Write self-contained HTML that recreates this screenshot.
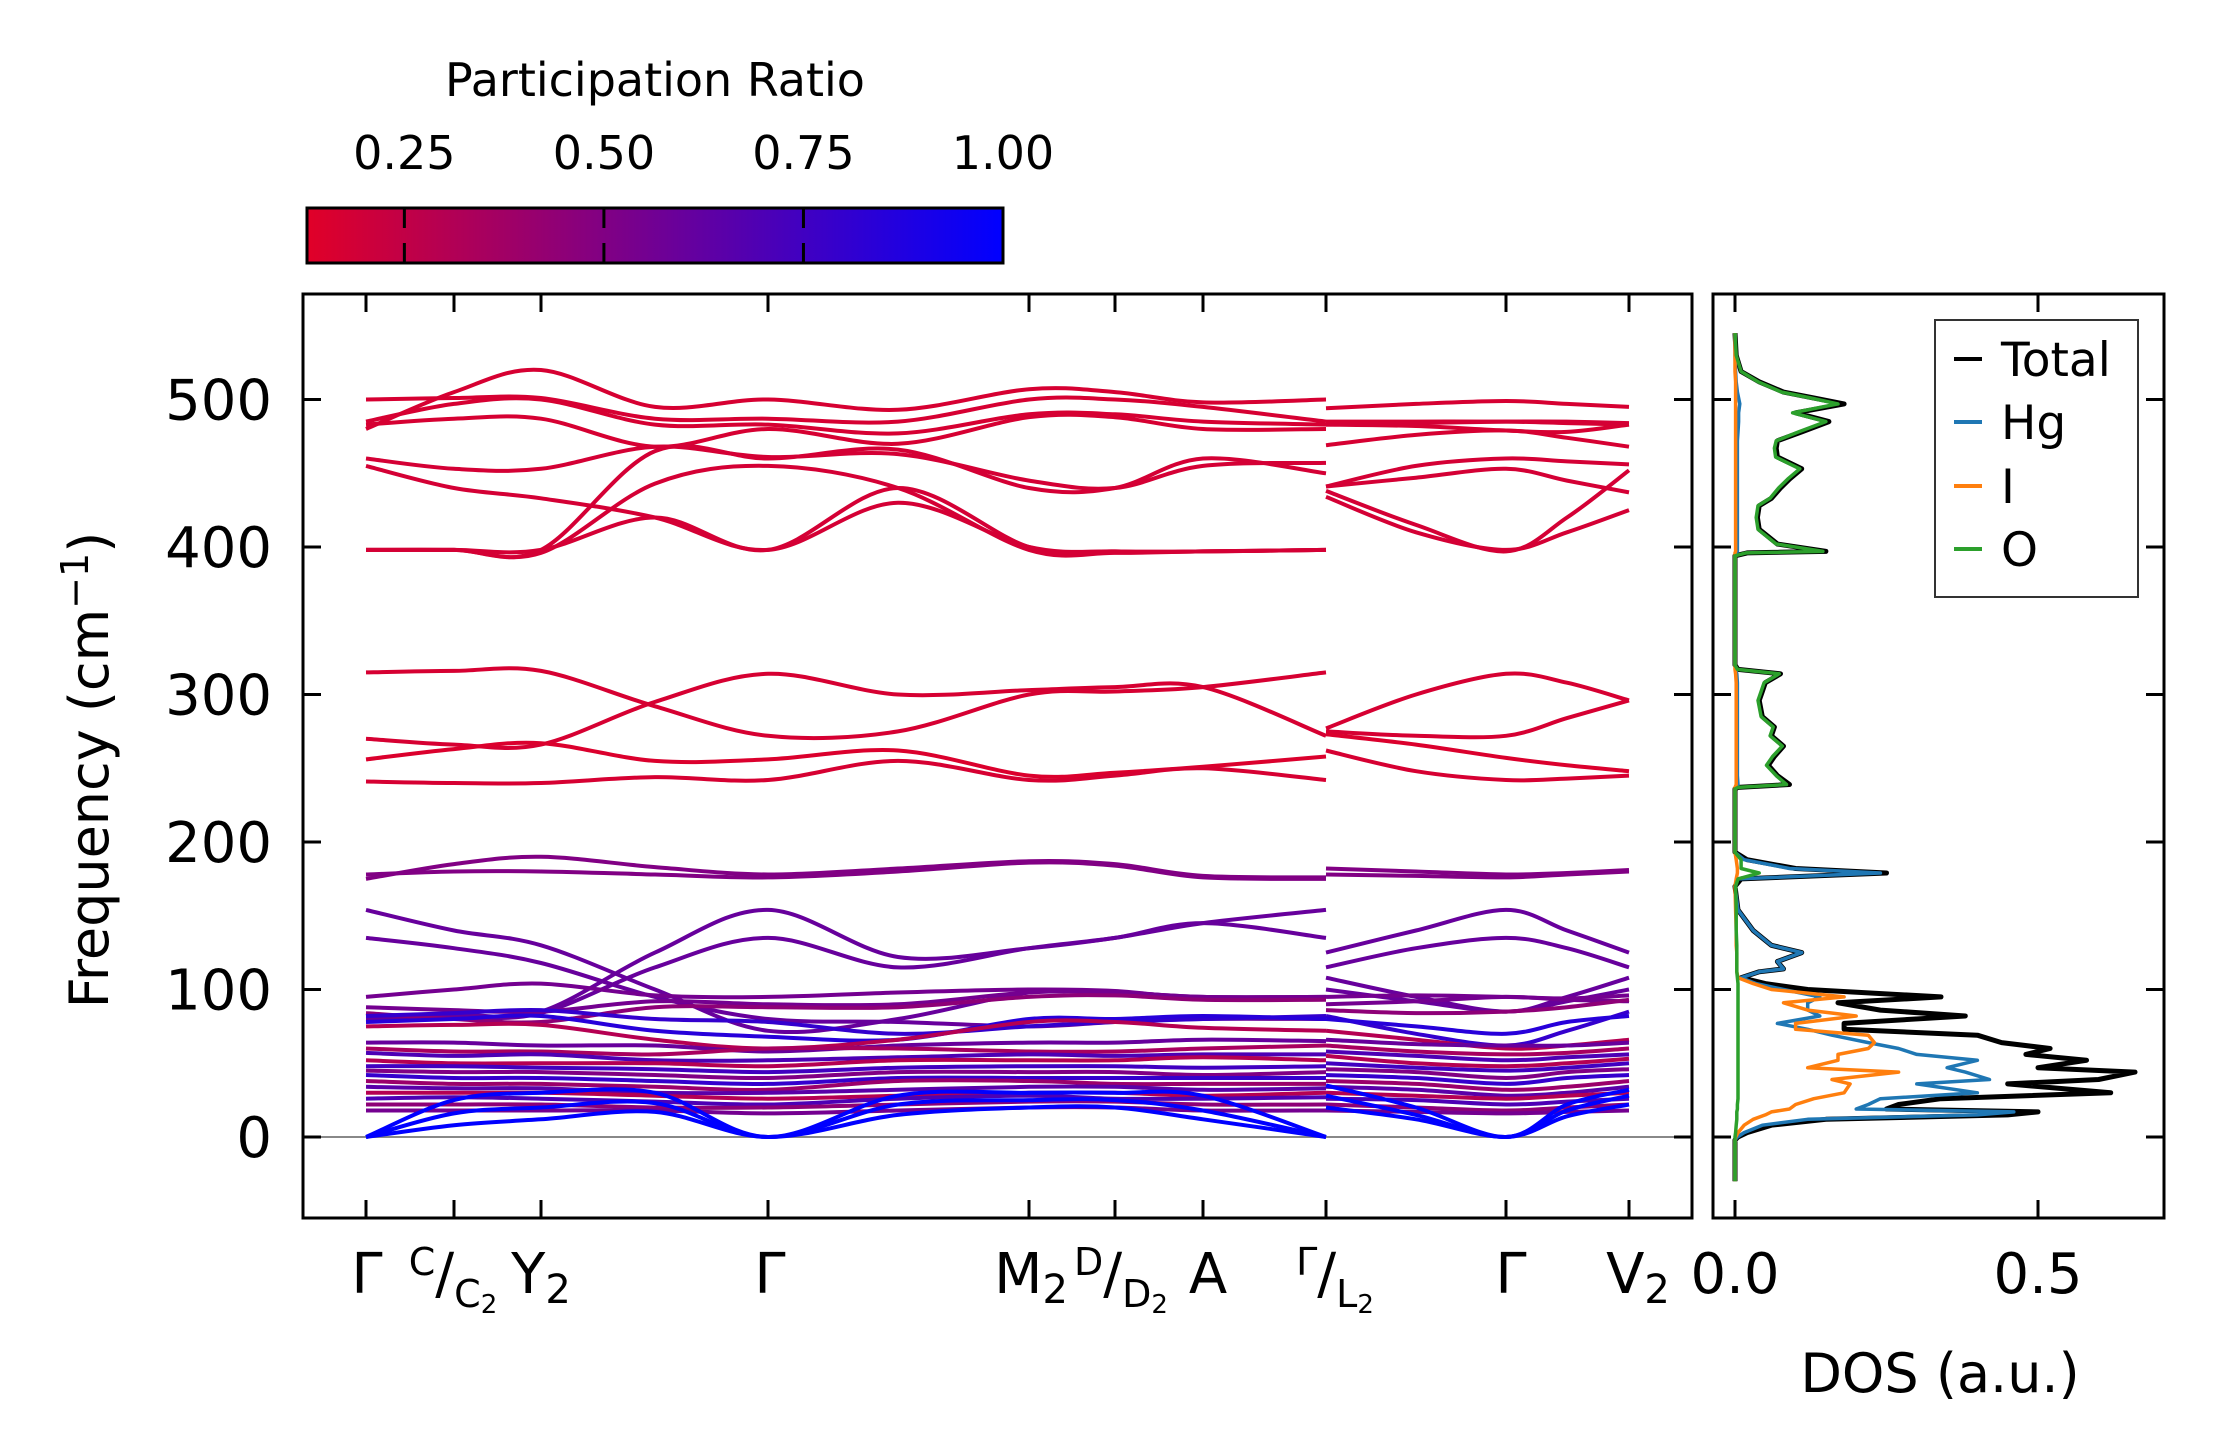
<!DOCTYPE html>
<html><head><meta charset="utf-8"><style>
html,body{margin:0;padding:0;background:#fff}
svg{display:block;font-family:"DejaVu Sans","Liberation Sans",sans-serif}
</style></head><body>
<svg id="fig" width="2222" height="1455" viewBox="0 0 2222 1455" xmlns="http://www.w3.org/2000/svg">
<defs>
<linearGradient id="cmap" x1="0" x2="1" y1="0" y2="0">
<stop offset="0" stop-color="rgb(225,0,40)"/><stop offset="1" stop-color="rgb(0,0,255)"/>
</linearGradient>
<clipPath id="mainclip"><rect x="303" y="294" width="1389" height="924"/></clipPath>
<clipPath id="dosclip"><rect x="1713" y="294" width="451" height="924"/></clipPath>
</defs>
<g>
<text x="655" y="96" font-size="46" text-anchor="middle">Participation Ratio</text>
<rect x="307" y="208" width="696" height="55" fill="url(#cmap)" stroke="#000" stroke-width="3"/>
<g id="cbticks"></g>
</g>
<g id="main"></g>
<g id="dos"></g>
<text transform="translate(108,770) rotate(-90)" font-size="54" text-anchor="middle">Frequency (cm<tspan dy="-20" font-size="38">−1</tspan><tspan dy="20">)</tspan></text>
<text x="1940" y="1392" font-size="54" text-anchor="middle">DOS (a.u.)</text>
</svg>
<script>
const kSeg1 = [0, 88, 175, 289, 402, 532, 663, 749, 837, 960];
const kSeg2 = [960, 1050, 1140, 1201, 1263];
const kTickPos = [0, 88, 175, 402, 663, 749, 837, 960, 1140, 1263];
const yTicks = [0, 100, 200, 300, 400, 500];
const bandsSeg1 = [
[480,505,520,495,500,493,507,505,498,500],
[500,501,501,487,487,485,500,500,495,485],
[485,497,500,483,483,477,490,490,485,483],
[483,487,487,468,480,470,488,488,480,480],
[460,453,453,468,461,463,445,440,455,457],
[455,440,433,420,398,430,400,397,397,398],
[398,398,398,465,460,466,440,440,460,450],
[398,398,396,443,455,440,398,396,397,398],
[398,398,398,420,398,440,400,397,397,398],
[315,316,316,292,272,275,300,302,305,315],
[270,266,266,295,314,300,303,305,305,272],
[256,263,267,255,256,262,245,247,251,258],
[241,240,240,244,242,255,242,245,250,242],
[175,185,190,183,178,182,187,185,177,176],
[178,180,180,178,176,180,186,184,176,175],
[154,140,130,100,72,80,98,98,95,95],
[135,128,118,95,80,78,75,78,80,80],
[82,83,85,125,154,122,128,135,145,154],
[80,81,84,115,135,115,128,135,145,135],
[95,100,104,96,95,98,100,99,94,94],
[88,86,85,92,90,90,98,98,95,95],
[84,80,78,88,88,88,95,96,93,93],
[82,84,86,80,78,70,75,78,80,82],
[78,80,82,72,68,66,80,80,82,80],
[75,76,76,66,60,66,78,78,74,72],
[64,64,62,62,58,62,64,64,66,65],
[60,58,58,56,60,60,58,58,60,62],
[57,55,56,52,52,54,56,55,56,56],
[52,50,50,50,48,52,52,52,54,52],
[48,48,47,46,44,47,48,48,47,48],
[45,44,44,42,40,44,44,44,42,44],
[42,40,40,38,36,40,40,40,40,40],
[38,36,36,34,32,38,38,36,36,36],
[34,33,33,30,30,32,34,34,32,33],
[30,30,30,28,26,28,30,30,28,30],
[26,27,26,24,22,26,28,26,26,27],
[22,22,22,20,20,22,24,24,22,22],
[18,18,18,18,16,18,20,20,18,18],
[0,8,12,17,0,15,20,20,12,0],
[0,16,20,23,0,22,25,25,18,0],
[0,25,30,30,0,28,30,30,28,0]
];
const bandsSeg2 = [
[494,497,499,497,495],
[485,485,485,484,483],
[483,482,479,478,483],
[469,476,479,474,468],
[441,455,460,458,456],
[441,447,453,445,437],
[438,415,397,420,452],
[434,410,398,410,425],
[483,484,485,485,484],
[277,300,314,308,296],
[275,272,272,284,296],
[273,266,257,252,248],
[262,248,242,243,245],
[182,180,178,179,181],
[178,177,176,178,180],
[125,140,154,140,125],
[115,128,135,128,115],
[108,95,85,95,108],
[100,92,85,92,100],
[95,96,95,94,96],
[90,92,95,93,92],
[86,84,85,88,93],
[82,70,62,72,85],
[80,75,70,78,82],
[72,66,60,62,66],
[66,63,62,62,64],
[62,58,56,57,60],
[58,55,52,54,56],
[55,50,48,50,53],
[50,47,45,47,50],
[46,44,40,44,46],
[42,40,36,40,42],
[38,36,32,34,38],
[34,32,28,30,34],
[30,28,26,28,30],
[26,25,22,24,26],
[22,20,18,20,22],
[18,17,16,17,18],
[20,12,0,14,22],
[28,15,0,18,28],
[35,20,0,22,32]
];
const bandPR = [0.17,0.17,0.17,0.17,0.18,0.18,0.18,0.18,0.18,0.17,0.17,0.15,0.17,0.5,0.5,0.6,0.6,0.6,0.6,0.55,
0.55,0.45,0.8,0.85,0.3,0.6,0.35,0.7,0.3,0.75,0.5,0.8,0.4,0.65,0.3,0.7,0.45,0.55,1.0,1.0,1.0];
const cbTicks = [0.25, 0.5, 0.75, 1.0];
const cbTickLabels = ["0.25","0.50","0.75","1.00"];

const dosFreq = [-30,-2,0,3,8,12,15,17,19,22,26,30,36,39,44,47,52,56,60,64,69,73,77,82,86,91,95,100,104,108,112,114,119,125,130,140,154,170,175,179,182,188,193,200,236,237,239,245,252,258,265,272,278,285,296,302,308,314,317,320,394,396,397,402,412,420,428,433,440,446,453,461,467,472,478,485,491,497,501,505,512,519,530,545];
const dosTotal = [0,0,0.005,0.02,0.06,0.15,0.45,0.5,0.25,0.27,0.34,0.62,0.45,0.6,0.66,0.5,0.58,0.48,0.52,0.44,0.4,0.18,0.18,0.38,0.24,0.17,0.34,0.12,0.05,0.01,0.04,0.08,0.07,0.11,0.06,0.03,0.005,0,0.01,0.25,0.1,0.02,0,0,0,0.005,0.09,0.07,0.055,0.065,0.08,0.06,0.065,0.045,0.04,0.045,0.05,0.075,0.005,0,0,0.02,0.15,0.07,0.04,0.037,0.04,0.06,0.075,0.09,0.11,0.07,0.068,0.07,0.11,0.155,0.1,0.18,0.13,0.08,0.04,0.01,0.002,0];
const dosHg = [0,0,0.004,0.015,0.045,0.12,0.4,0.46,0.2,0.22,0.24,0.4,0.3,0.42,0.38,0.35,0.4,0.3,0.27,0.22,0.16,0.12,0.07,0.14,0.12,0.12,0.14,0.08,0.035,0.01,0.04,0.08,0.07,0.11,0.06,0.03,0.005,0,0.005,0.24,0.09,0.015,0,0,0,0.001,0.005,0.004,0.004,0.004,0.004,0.004,0.004,0.004,0.004,0.004,0.004,0.003,0.001,0,0,0.002,0.004,0.004,0.004,0.004,0.004,0.004,0.004,0.004,0.004,0.004,0.004,0.004,0.005,0.006,0.006,0.008,0.006,0.004,0.002,0.001,0,0];
const dosI = [0,0,0.001,0.005,0.015,0.03,0.05,0.06,0.09,0.1,0.13,0.18,0.19,0.16,0.27,0.12,0.17,0.17,0.22,0.23,0.22,0.1,0.1,0.2,0.12,0.08,0.18,0.06,0.03,0.005,0.003,0.003,0.003,0.003,0.002,0.002,0.001,0,0.002,0.004,0.004,0.002,0,0,0,0,0.002,0.002,0.002,0.002,0.002,0.002,0.002,0.002,0.002,0.002,0.002,0.001,0,0,0,0,0.001,0.001,0.001,0.001,0.001,0.001,0.001,0.001,0.001,0.001,0.001,0.001,0.001,0.001,0.001,0.001,0.001,0.001,0.001,0,0,0];
const dosO = [0,0,0,0.001,0.002,0.003,0.003,0.003,0.004,0.004,0.005,0.005,0.005,0.005,0.005,0.005,0.005,0.005,0.005,0.005,0.005,0.005,0.005,0.005,0.005,0.005,0.005,0.005,0.005,0.004,0.003,0.003,0.003,0.003,0.003,0.002,0.002,0.001,0.005,0.04,0.01,0.01,0,0,0,0.005,0.085,0.068,0.052,0.062,0.078,0.058,0.063,0.043,0.038,0.043,0.048,0.073,0.004,0,0,0.018,0.145,0.068,0.038,0.035,0.038,0.058,0.072,0.087,0.107,0.067,0.065,0.068,0.105,0.15,0.095,0.17,0.125,0.077,0.038,0.01,0.002,0];
const dosXTicks = [0, 0.5];
const legendNames = ["Total","Hg","I","O"];

const NS = "http://www.w3.org/2000/svg";
const X0 = 303, X1 = 1692, Y0 = 294, Y1 = 1218;
const kMin = -63, kMax = 1326;
function kx(k){ return X0 + (k - kMin) / (kMax - kMin) * (X1 - X0); }
function fy(v){ return 1137 - v * 1.475; }
const DX0 = 1713, DX1 = 2164;
function dx(d){ return 1735 + d * 606; }
function prColor(p){ const t = Math.max(0, Math.min(1, (p - 0.128) / (1 - 0.128)));
  return "rgb(" + Math.round(225*(1-t)) + ",0," + Math.round(40 + 215*t) + ")"; }
function mk(tag, attrs, parent){ const e = document.createElementNS(NS, tag);
  for (const a in attrs) e.setAttribute(a, attrs[a]); parent.appendChild(e); return e; }
function smoothPath(pts){
  let d = "M" + pts[0][0].toFixed(1) + "," + pts[0][1].toFixed(1);
  for (let i = 0; i < pts.length - 1; i++){
    const p0 = pts[Math.max(0, i-1)], p1 = pts[i], p2 = pts[i+1], p3 = pts[Math.min(pts.length-1, i+2)];
    const c1 = [p1[0] + (p2[0]-p0[0])/6, p1[1] + (p2[1]-p0[1])/6];
    const c2 = [p2[0] - (p3[0]-p1[0])/6, p2[1] - (p3[1]-p1[1])/6];
    d += " C" + c1[0].toFixed(1) + "," + c1[1].toFixed(1) + " " + c2[0].toFixed(1) + "," + c2[1].toFixed(1) + " " + p2[0].toFixed(1) + "," + p2[1].toFixed(1);
  }
  return d;
}

const cb = document.getElementById("cbticks");
cbTicks.forEach((t, i) => {
  const x = 307 + (t - 0.128) / (1 - 0.128) * 696;
  if (t < 1) {
    const l1 = mk("line", {x1:x, x2:x, y1:208, y2:228, stroke:"#000", "stroke-width":3}, cb);
    
    
    const l2 = mk("line", {x1:x, x2:x, y1:243, y2:263, stroke:"#000", "stroke-width":3}, cb);
    
    
  }
  const tx = mk("text", {x:x, y:169, "font-size":46, "text-anchor":"middle"}, cb);
  tx.textContent = cbTickLabels[i];
  
  
});

const main = document.getElementById("main");
const zl = mk("line", {x1:X0, x2:X1, y1:fy(0), y2:fy(0), stroke:"#888", "stroke-width":2}, main);


const bandG = mk("g", {"clip-path":"url(#mainclip)"}, main);


bandsSeg1.forEach((b, i) => {
  const col = prColor(bandPR[i]);
  const p1 = mk("path", {d: smoothPath(b.map((v, j) => [kx(kSeg1[j]), fy(v)])), fill:"none", stroke:col, "stroke-width":4}, bandG);
  
  
  const b2 = bandsSeg2[i];
  const p2 = mk("path", {d: smoothPath(b2.map((v, j) => [kx(kSeg2[j]), fy(v)])), fill:"none", stroke:col, "stroke-width":4}, bandG);
  
  
});
const frame = mk("rect", {x:X0, y:Y0, width:X1-X0, height:Y1-Y0, fill:"none", stroke:"#000", "stroke-width":3}, main);


kTickPos.forEach(k => {
  const x = kx(k);
  const t1 = mk("line", {x1:x, x2:x, y1:Y1, y2:Y1-18, stroke:"#000", "stroke-width":3}, main);
  
  
  const t2 = mk("line", {x1:x, x2:x, y1:Y0, y2:Y0+18, stroke:"#000", "stroke-width":3}, main);
  
  
});
yTicks.forEach(v => {
  const y = fy(v);
  const t1 = mk("line", {x1:X0, x2:X0+18, y1:y, y2:y, stroke:"#000", "stroke-width":3}, main);
  
  
  const t2 = mk("line", {x1:X1, x2:X1-18, y1:y, y2:y, stroke:"#000", "stroke-width":3}, main);
  
  
  const tl = mk("text", {x:272, y:y+20, "font-size":56, "text-anchor":"end"}, main);
  tl.textContent = String(v);
  
  
});

(function(){
  const html = [
    '<text x="367" y="1293" font-size="56" text-anchor="middle">Γ</text>',
    '<text x="453" y="1293" font-size="56" text-anchor="middle"><tspan font-size="38" dy="-18">C</tspan><tspan dy="18">/</tspan><tspan font-size="38" dy="14">C</tspan><tspan font-size="26" dy="6">2</tspan></text>',
    '<text x="541" y="1293" font-size="56" text-anchor="middle">Y<tspan font-size="40" dy="10">2</tspan></text>',
    '<text x="770" y="1293" font-size="56" text-anchor="middle">Γ</text>',
    '<text x="1031" y="1293" font-size="56" text-anchor="middle">M<tspan font-size="40" dy="10">2</tspan></text>',
    '<text x="1121" y="1293" font-size="56" text-anchor="middle"><tspan font-size="38" dy="-18">D</tspan><tspan dy="18">/</tspan><tspan font-size="38" dy="14">D</tspan><tspan font-size="26" dy="6">2</tspan></text>',
    '<text x="1208" y="1293" font-size="56" text-anchor="middle">A</text>',
    '<text x="1335" y="1293" font-size="56" text-anchor="middle"><tspan font-size="38" dy="-18">Γ</tspan><tspan dy="18">/</tspan><tspan font-size="38" dy="14">L</tspan><tspan font-size="26" dy="6">2</tspan></text>',
    '<text x="1511" y="1293" font-size="56" text-anchor="middle">Γ</text>',
    '<text x="1638" y="1293" font-size="56" text-anchor="middle">V<tspan font-size="40" dy="10">2</tspan></text>'
  ];
  const tmp = document.createElementNS(NS, "g");
  tmp.innerHTML = html.join("");
  Array.from(tmp.childNodes).forEach(n => {
    
    
    main.appendChild(n);
  });
})();

(function(){
  const g = document.getElementById("dos");
  const clipG = mk("g", {"clip-path":"url(#dosclip)"}, g);
  
  
  const series = [dosTotal, dosHg, dosI, dosO];
  const colors = ["#000000", "#1f77b4", "#ff7f0e", "#2ca02c"];
  const widths = [5, 3.5, 3.5, 3.5];
  series.forEach((s, i) => {
    const d = s.map((v, j) => (j ? "L" : "M") + dx(v).toFixed(1) + "," + fy(dosFreq[j]).toFixed(1)).join(" ");
    const p = mk("path", {d:d, fill:"none", stroke:colors[i], "stroke-width":widths[i], "stroke-linejoin":"round"}, clipG);
    
    
  });
  const fr = mk("rect", {x:DX0, y:Y0, width:DX1-DX0, height:Y1-Y0, fill:"none", stroke:"#000", "stroke-width":3}, g);
  
  
  yTicks.forEach(v => {
    const y = fy(v);
    const t1 = mk("line", {x1:DX0, x2:DX0+18, y1:y, y2:y, stroke:"#000", "stroke-width":3}, g);
    
    
    const t2 = mk("line", {x1:DX1, x2:DX1-18, y1:y, y2:y, stroke:"#000", "stroke-width":3}, g);
    
    
  });
  dosXTicks.forEach(t => {
    const x = dx(t);
    const t1 = mk("line", {x1:x, x2:x, y1:Y1, y2:Y1-18, stroke:"#000", "stroke-width":3}, g);
    
    
    const t2 = mk("line", {x1:x, x2:x, y1:Y0, y2:Y0+18, stroke:"#000", "stroke-width":3}, g);
    
    
    const tl = mk("text", {x:x, y:1293, "font-size":56, "text-anchor":"middle"}, g);
    tl.textContent = t.toFixed(1);
    
    
  });
  const lg = mk("g", {}, g);
  
  
  const box = mk("rect", {x:1935, y:320, width:203, height:277, fill:"#fff", stroke:"#333", "stroke-width":2}, lg);
  
  
  const ys = [359, 422, 486, 549];
  legendNames.forEach((n, i) => {
    const ln = mk("line", {x1:1954, x2:1982, y1:ys[i], y2:ys[i], stroke:colors[i], "stroke-width":4}, lg);
    
    
    const tx = mk("text", {x:2001, y:ys[i]+17, "font-size":47}, lg);
    tx.textContent = n;
    
    
  });
})();
</script>
</body></html>
